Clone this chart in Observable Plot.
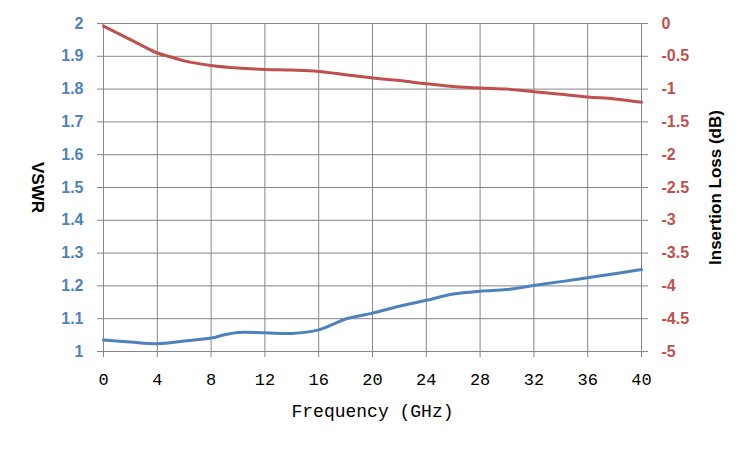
<!DOCTYPE html>
<html>
<head>
<meta charset="utf-8">
<script src="https://cdn.jsdelivr.net/npm/d3@7"></script>
<script src="https://cdn.jsdelivr.net/npm/@observablehq/plot@0.6"></script>
<style>
  html, body { margin: 0; padding: 0; background: #fff; }
</style>
</head>
<body>
<div id="chart"></div>
<script>
const freq = [0, 2, 4, 6, 8, 9, 10, 12, 14, 16, 17, 18, 20, 22, 24, 26, 28, 30, 32, 34, 36, 38, 40];
const vswr = [1.035, 1.029, 1.024, 1.032, 1.041, 1.051, 1.058, 1.057, 1.055, 1.066, 1.082, 1.099, 1.117, 1.138, 1.156, 1.175, 1.184, 1.189, 1.201, 1.213, 1.225, 1.237, 1.25];
const lossFreq = [0, 2, 4, 5, 6, 8, 10, 12, 14, 16, 18, 20, 22, 24, 26, 28, 30, 32, 34, 36, 38, 40];
const lossDb = [-0.04, -0.245, -0.45, -0.51, -0.57, -0.64, -0.68, -0.70, -0.71, -0.73, -0.78, -0.83, -0.87, -0.92, -0.96, -0.985, -1.0, -1.04, -1.08, -1.12, -1.15, -1.2];
const xTicks = [0, 4, 8, 12, 16, 20, 24, 28, 32, 36, 40];
const yTicks = [1, 1.1, 1.2, 1.3, 1.4, 1.5, 1.6, 1.7, 1.8, 1.9, 2];
const dbTicks = [-5, -4.5, -4, -3.5, -3, -2.5, -2, -1.5, -1, -0.5, 0];

const BLUE = "#4F81BD", RED = "#C0504D", GRID = "#868686";
const MONO = "'Liberation Mono', 'Courier New', monospace";
const SANS = "'Liberation Sans', Arial, sans-serif";
const dbToV = d => 2 + d / 5;

const vData = freq.map((f, i) => ({f, v: vswr[i]}));
const lData = lossFreq.map((f, i) => ({f, v: dbToV(lossDb[i])}));

const chart = Plot.plot({
  width: 750,
  height: 450,
  marginLeft: 103,
  marginRight: 109,
  marginTop: 23,
  marginBottom: 99,
  x: {domain: [0, 40]},
  y: {domain: [1, 2]},
  marks: [
    Plot.gridX(xTicks, {stroke: GRID, strokeOpacity: 1}),
    Plot.gridY(yTicks, {stroke: GRID, strokeOpacity: 1}),
    Plot.ruleX([0, 40], {stroke: GRID}),
    Plot.axisX(xTicks, {
      tickSize: 6, tickPadding: 15, stroke: GRID, fill: "#000",
      fontFamily: MONO, fontSize: 17, label: null,
      tickFormat: d => String(d)
    }),
    Plot.axisY(yTicks, {
      anchor: "left", tickSize: 6, tickPadding: 14, stroke: GRID, fill: BLUE,
      fontFamily: SANS, fontWeight: "bold", fontSize: 16, label: null,
      tickFormat: d => String(+d.toFixed(1))
    }),
    Plot.axisY(dbTicks.map(dbToV), {
      anchor: "right", tickSize: 6, tickPadding: 14, stroke: GRID, fill: RED,
      fontFamily: SANS, fontWeight: "bold", fontSize: 16, label: null,
      tickFormat: d => String(+((d - 2) * 5).toFixed(1))
    }),
    Plot.line(vData, {x: "f", y: "v", stroke: BLUE, strokeWidth: 3, curve: "catmull-rom"}),
    Plot.line(lData, {x: "f", y: "v", stroke: RED, strokeWidth: 3, curve: "catmull-rom"}),
    Plot.text(["VSWR"], {
      frameAnchor: "left", textAnchor: "middle", dx: -66, rotate: 90, fill: "#000",
      fontFamily: SANS, fontWeight: "bold", fontSize: 17
    }),
    Plot.text(["Insertion Loss (dB)"], {
      frameAnchor: "right", textAnchor: "middle", dx: 74, rotate: -90, fill: "#000",
      fontFamily: SANS, fontWeight: "bold", fontSize: 17
    }),
    Plot.text(["Frequency (GHz)"], {
      frameAnchor: "bottom", dy: 65, fill: "#000",
      fontFamily: MONO, fontSize: 18
    })
  ]
});
document.getElementById("chart").appendChild(chart);
</script>
</body>
</html>
